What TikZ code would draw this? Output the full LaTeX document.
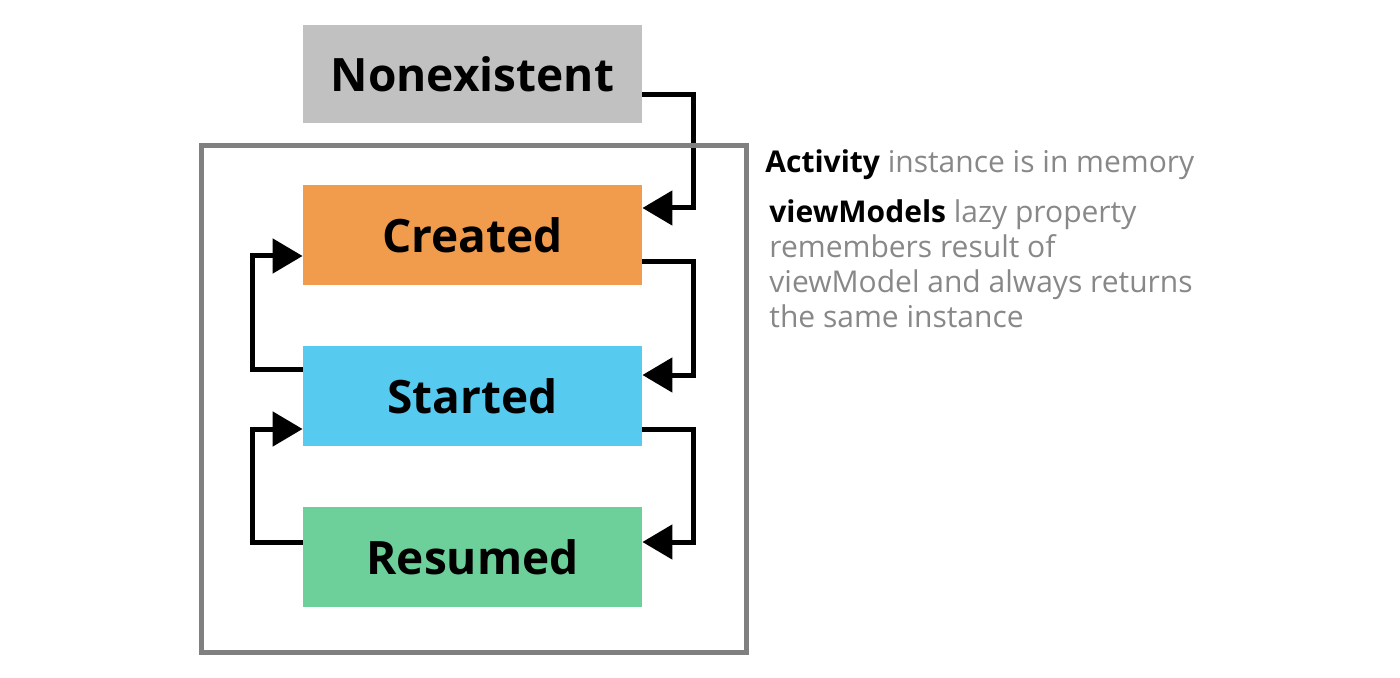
\documentclass[tikz,border=0pt]{standalone}
\usepackage{fontspec}
\setmainfont{Open Sans}
\usetikzlibrary{arrows.meta,calc}
\definecolor{cgray}{HTML}{C0C1C0}
\definecolor{corange}{HTML}{F09C4C}
\definecolor{cblue}{HTML}{56CBEF}
\definecolor{cgreen}{HTML}{6DCF9A}
\definecolor{cframe}{HTML}{808080}
\definecolor{ctext}{HTML}{888888}
\begin{document}
\begin{tikzpicture}[x=0.5pt,y=-0.5pt,
  state/.style={minimum width=169.5pt, minimum height=50pt, inner sep=0pt,
    font=\fontsize{23}{28}\selectfont\bfseries, text=black},
  conn/.style={line width=2.5pt, draw=black, line join=miter,
    -{Triangle[length=15pt,width=17pt]}},
  frame/.style={draw=cframe, line width=2.5pt, minimum width=272.25pt,
    minimum height=253.25pt, inner sep=0pt},
  note/.style={inner sep=0pt, font=\fontsize{15}{17.5}\selectfont, text=ctext}]
\useasboundingbox (0,0) rectangle (1400,678);
\node[state, fill=cgray, minimum height=49pt] (non) at (472.5,74) {Nonexistent};
\node[state, fill=corange] (cre) at (472.5,235) {Created};
\node[state, fill=cblue] (sta) at (472.5,396) {Started};
\node[state, fill=cgreen] (res) at (472.5,557) {Resumed};
\draw[conn] ([yshift=-10.5pt]non.east) -- ++(25.5pt,0) |- ([yshift=13.5pt]cre.east);
\draw[conn] ([yshift=-13.5pt]cre.east) -- ++(25.5pt,0) |- ([yshift=10.5pt]sta.east);
\draw[conn] ([yshift=-16.5pt]sta.east) -- ++(25.5pt,0) |- ([yshift=7.5pt]res.east);
\draw[conn] ([yshift=7.5pt]res.west) -- ++(-25pt,0) |- ([yshift=-16.5pt]sta.west);
\draw[conn] ([yshift=13.5pt]sta.west) -- ++(-25pt,0) |- ([yshift=-10.5pt]cre.west);
\node[frame] (box) at (473.75,399.25) {};
\node[note, anchor=base west] (act) at (765,173)
  {\textcolor{black}{\bfseries Activity} instance is in memory};
\node[note, anchor=north west, align=left] (vm) at (769,199)
  {\textcolor{black}{\bfseries viewModels} lazy property\\remembers result of\\viewModel and always returns\\the same instance};
\end{tikzpicture}
\end{document}
